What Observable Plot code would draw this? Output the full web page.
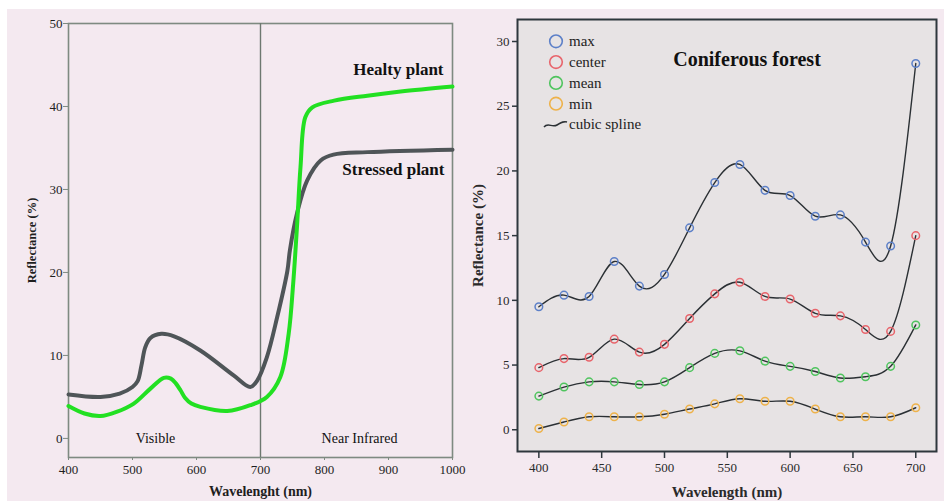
<!DOCTYPE html>
<html>
<head>
<meta charset="utf-8">
<script src="https://cdn.jsdelivr.net/npm/d3@7"></script>
<script src="https://cdn.jsdelivr.net/npm/@observablehq/plot@0.6"></script>
<style>
  html, body { margin: 0; padding: 0; background: #ffffff; }
  #stage { position: relative; width: 944px; height: 501px; overflow: hidden; background: #ffffff; }
  #bg { position: absolute; left: 7px; top: 9px; width: 937px; height: 492px; background: #f4e9f0; }
  #left { position: absolute; left: 0; top: 0; width: 470px; height: 501px; }
  #right { position: absolute; left: 470px; top: 0; width: 474px; height: 501px; }
  #left svg, #right svg { max-width: none; overflow: visible; }
  #left g[aria-label="x-axis label"] text { font-weight: bold; font-size: 14px; }
  #left g[aria-label="y-axis label"] text { font-weight: bold; font-size: 12.5px; }
  #right g[aria-label="x-axis label"] text { font-weight: bold; font-size: 15px; }
  #right g[aria-label="y-axis label"] text { font-weight: bold; font-size: 15px; }
</style>
</head>
<body>
<div id="stage">
  <div id="bg"></div>
  <div id="left"></div>
  <div id="right"></div>
</div>
<script>
// ---- Left panel: generic vegetation reflectance curves ----
const healthyWavelength = [400, 425, 450, 475, 502, 528, 549, 560, 568, 575, 582, 592, 606, 648, 684, 710, 731, 744, 751, 757, 762.5, 770, 781, 815, 867, 919, 1000];
const healthyReflectance = [3.9, 3.0, 2.7, 3.2, 4.2, 6.0, 7.3, 7.2, 6.6, 5.8, 4.9, 4.2, 3.8, 3.3, 4.0, 5.0, 7.4, 12.6, 18.6, 25.5, 32.7, 38.7, 39.9, 40.7, 41.3, 41.8, 42.4];

const stressedWavelength = [400, 450, 480, 500, 508, 514, 520, 528, 545, 565, 606, 658, 684, 695, 710, 726, 742, 746, 757, 773, 794, 814, 867, 1000];
const stressedReflectance = [5.3, 5.0, 5.4, 6.2, 6.9, 8.8, 11.0, 12.1, 12.6, 12.3, 10.6, 7.6, 6.2, 7.0, 9.8, 14.6, 20.2, 22.7, 27.1, 31.1, 33.5, 34.2, 34.5, 34.8];

const regionNames = ["Visible", "Near Infrared"];
const regionBounds = [400, 700, 1000];
const leftXTicks = [400, 500, 600, 700, 800, 900, 1000];
const leftYTicks = [0, 10, 20, 30, 40, 50];

// ---- Right panel: coniferous forest spectra ----
const wavelengths = [400, 420, 440, 460, 480, 500, 520, 540, 560, 580, 600, 620, 640, 660, 680, 700];
const maxValues    = [9.5, 10.4, 10.3, 13.0, 11.1, 12.0, 15.6, 19.1, 20.5, 18.5, 18.1, 16.5, 16.6, 14.5, 14.2, 28.3];
const centerValues = [4.8, 5.5, 5.6, 7.0, 6.0, 6.6, 8.6, 10.5, 11.4, 10.3, 10.1, 9.0, 8.8, 7.75, 7.6, 15.0];
const meanValues   = [2.6, 3.3, 3.7, 3.7, 3.5, 3.7, 4.8, 5.9, 6.1, 5.3, 4.9, 4.5, 4.0, 4.1, 4.9, 8.1];
const minValues    = [0.1, 0.6, 1.0, 1.0, 1.0, 1.2, 1.6, 2.0, 2.4, 2.2, 2.2, 1.6, 1.0, 1.0, 1.0, 1.7];
const seriesNames  = ["max", "center", "mean", "min"];
const seriesColors = ["#5d80c8", "#e8646b", "#4fc45e", "#eeb24a"];
const rightXTicks = [400, 450, 500, 550, 600, 650, 700];
const rightYTicks = [0, 5, 10, 15, 20, 25, 30];

const healthy = healthyWavelength.map((w, i) => ({w, r: healthyReflectance[i]}));
const stressed = stressedWavelength.map((w, i) => ({w, r: stressedReflectance[i]}));
const regions = regionNames.map((name, i) => ({name, mid: (regionBounds[i] + regionBounds[i + 1]) / 2}));

const leftPlot = Plot.plot({
  width: 470,
  height: 501,
  marginLeft: 68,
  marginTop: 23,
  marginRight: 18,
  marginBottom: 44,
  style: {background: "transparent", fontFamily: "'Liberation Serif', 'Times New Roman', serif", fontSize: "13px", color: "#1e1e1e"},
  x: {domain: [400, 1000]},
  y: {domain: [-2.3, 50]},
  marks: [
    Plot.frame({stroke: "#7e8a81", strokeWidth: 1.6}),
    Plot.ruleX([regionBounds[1]], {stroke: "#6d7870", strokeWidth: 1.4}),
    Plot.axisX({ticks: leftXTicks, tickFormat: d => String(d), tickSize: 3, tickPadding: 4, stroke: "#7e8a81", fill: "#1e1e1e",
      label: "Wavelenght (nm)", labelAnchor: "center", labelOffset: 38, labelArrow: false}),
    Plot.axisY({ticks: leftYTicks, tickFormat: d => String(d), tickSize: 5, tickPadding: 1, stroke: "#7e8a81", fill: "#1e1e1e",
      label: "Reflectance (%)", labelAnchor: "center", labelOffset: 41, labelArrow: false}),
    Plot.line(stressed, {x: "w", y: "r", stroke: "#4f5558", strokeWidth: 4, curve: "catmull-rom"}),
    Plot.line(healthy, {x: "w", y: "r", stroke: "#22e022", strokeWidth: 4, curve: "catmull-rom"}),
    Plot.text(healthy.slice(-1), {x: "w", y: "r", text: () => "Healty plant", textAnchor: "end",
      dx: -9, dy: -17, fontWeight: "bold", fontSize: 17, fill: "#111"}),
    Plot.text(stressed.slice(-1), {x: "w", y: "r", text: () => "Stressed plant", textAnchor: "end",
      dx: -8, dy: 20, fontWeight: "bold", fontSize: 17, fill: "#111"}),
    Plot.text(regions.slice(0, 1), {x: "mid", frameAnchor: "bottom", text: "name", dx: -9, dy: -15, fontSize: 14, fill: "#111"}),
    Plot.text(regions.slice(1), {x: "mid", frameAnchor: "bottom", text: "name", dx: 3, dy: -15, fontSize: 14, fill: "#111"})
  ]
});
document.getElementById("left").append(leftPlot);

const rows = [maxValues, centerValues, meanValues, minValues].flatMap((vals, s) =>
  vals.map((v, i) => ({series: seriesNames[s], w: wavelengths[i], r: v}))
);

const rightPlot = Plot.plot({
  width: 474,
  height: 501,
  marginLeft: 47,
  marginTop: 19,
  marginRight: 8,
  marginBottom: 50,
  style: {background: "transparent", fontFamily: "'Liberation Serif', 'Times New Roman', serif", fontSize: "13px", color: "#2a2a2a"},
  x: {domain: [383, 716.5]},
  y: {domain: [-1.68, 31.7]},
  color: {domain: seriesNames, range: seriesColors},
  marks: [
    Plot.frame({fill: "#e7e3e4"}),
    Plot.line(rows, {x: "w", y: "r", z: "series", curve: "natural", stroke: "#2b3034", strokeWidth: 1.4}),
    Plot.dot(rows, {x: "w", y: "r", stroke: "series", r: 3.8, strokeWidth: 1.5, fill: "none"}),
    Plot.frame({stroke: "#2e373d", strokeWidth: 2}),
    Plot.axisX({ticks: rightXTicks, tickSize: 7, tickPadding: 4, stroke: "#2e373d", strokeWidth: 1.5, fill: "#2a2a2a",
      label: "Wavelength (nm)", labelAnchor: "center", labelOffset: 45, labelArrow: false}),
    Plot.axisY({ticks: rightYTicks, tickSize: 5, tickPadding: 3, stroke: "#2e373d", strokeWidth: 1.5, fill: "#2a2a2a",
      label: "Reflectance (%)", labelAnchor: "center", labelOffset: 45, labelArrow: false}),
    Plot.text(["Coniferous forest"], {frameAnchor: "top", text: d => d, dx: 20, dy: 32,
      fontWeight: "bold", fontSize: 20, fill: "#111"})
  ]
});
document.getElementById("right").append(rightPlot);

// Legend: hollow circle swatches plus a spline swatch
const svg = d3.select(rightPlot);
const legend = svg.append("g")
  .attr("font-family", "'Liberation Serif', serif")
  .attr("font-size", 15)
  .attr("text-anchor", "start")
  .attr("fill", "#222");
seriesNames.forEach((name, i) => {
  const cy = 41.3 + i * 20.8;
  legend.append("circle").attr("cx", 86).attr("cy", cy).attr("r", 6.3)
    .attr("fill", "none").attr("stroke", seriesColors[i]).attr("stroke-width", 1.6);
  legend.append("text").attr("x", 99).attr("y", cy).attr("dy", "0.32em").text(name);
});
legend.append("path")
  .attr("d", "M74,127 C78,122 82,128 87,125 S94,121 97,122")
  .attr("fill", "none").attr("stroke", "#2b3034").attr("stroke-width", 1.5);
legend.append("text").attr("x", 99).attr("y", 124.5).attr("dy", "0.32em").text("cubic spline");
</script>
</body>
</html>
